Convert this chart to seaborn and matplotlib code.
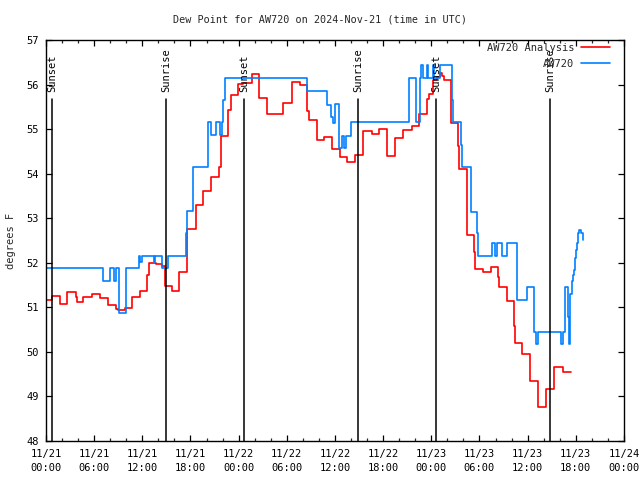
import matplotlib
matplotlib.use("Agg")
import matplotlib.pyplot as plt
import seaborn as sns
import pandas as pd

# ---- data (hours since 2024-11-21 00:00 UTC, dew point in F) ----
analysis_hours = [0.0, 0.78, 1.74, 2.65, 3.70, 3.90, 4.65, 5.77, 6.73, 7.69, 7.76, 8.72, 9.01, 9.88,
                  10.71, 11.71, 12.62, 12.79, 13.70, 14.41, 14.79, 15.73, 16.60, 17.60, 18.65, 19.59,
                  20.55, 21.59, 21.76, 22.63, 22.71, 23.04, 23.95, 24.58, 25.66, 26.57, 27.57, 28.65,
                  29.56, 30.61, 31.64, 32.47, 32.80, 33.72, 34.63, 35.59, 36.62, 37.53, 38.53, 39.52,
                  40.65, 41.52, 42.51, 43.51, 44.51, 45.55, 46.50, 47.42, 47.75, 48.24, 48.71, 49.08,
                  49.39, 49.58, 50.41, 51.36, 51.48, 52.41, 52.48, 53.35, 53.48, 54.40, 54.47, 55.39,
                  56.34, 56.46, 57.39, 58.30, 58.42, 59.35, 60.35, 61.32, 62.34, 63.32, 64.34, 65.40]
analysis_vals = [51.17, 51.25, 51.08, 51.34, 51.23, 51.12, 51.23, 51.30, 51.21, 51.12, 51.05, 50.96, 50.95, 50.99,
                 51.23, 51.37, 51.72, 52.00, 51.97, 51.93, 51.49, 51.36, 51.79, 52.75, 53.29, 53.61,
                 53.93, 54.14, 54.85, 55.34, 55.43, 55.77, 56.01, 56.04, 56.23, 55.69, 55.35, 55.34,
                 55.58, 56.05, 56.00, 55.41, 55.20, 54.76, 54.83, 54.55, 54.38, 54.27, 54.43, 54.96,
                 54.90, 55.00, 54.40, 54.79, 54.98, 55.08, 55.34, 55.68, 55.79, 56.10, 56.18, 56.27,
                 56.19, 56.10, 55.13, 54.62, 54.10, 53.35, 52.62, 52.25, 51.85, 51.82, 51.79, 51.91,
                 51.67, 51.45, 51.15, 50.58, 50.21, 49.95, 49.34, 48.76, 49.16, 49.66, 49.54, 49.54]

obs_hours = [0.0, 7.14, 7.97, 8.47, 8.72, 9.09, 9.93, 11.62, 11.77, 11.96, 13.49, 13.58, 14.41, 15.23,
             17.44, 17.52, 18.35, 20.22, 20.51, 21.18, 21.67, 21.88, 22.05, 22.33, 32.47, 35.04,
             35.47, 35.72, 36.04, 36.54, 36.87, 37.12, 37.31, 38.05, 45.16, 46.09, 46.59, 46.71,
             46.92, 47.42, 47.62, 48.17, 48.33, 49.08, 50.54, 50.74, 51.69, 51.86, 52.94, 53.73,
             53.85, 55.52, 55.93, 56.22, 56.78, 57.46, 58.63, 58.71, 59.96, 60.79, 61.04, 61.33,
             64.11, 64.36, 64.65, 64.98, 65.10, 65.27, 65.48, 65.61, 65.77, 65.90, 66.02, 66.18,
             66.30, 66.43, 66.64, 66.93]
obs_vals = [51.88, 51.59, 51.88, 51.59, 51.88, 50.87, 51.88, 52.15, 52.02, 52.15, 52.02, 52.15, 51.88, 52.15,
            52.66, 53.16, 54.14, 55.15, 54.87, 55.15, 54.87, 55.15, 55.65, 56.14, 55.86, 55.54,
            55.28, 55.13, 55.56, 54.57, 54.85, 54.57, 54.85, 55.15, 56.14, 55.15, 56.14, 56.44,
            56.14, 56.44, 56.14, 56.44, 56.14, 56.44, 55.65, 55.15, 54.64, 54.14, 53.15, 52.66,
            52.15, 52.44, 52.15, 52.44, 52.15, 52.44, 51.95, 51.17, 51.45, 50.44, 50.18, 50.44,
            50.18, 50.44, 51.45, 50.79, 50.18, 51.31, 51.58, 51.73, 51.84, 52.10, 52.29, 52.45,
            52.66, 52.74, 52.66, 52.51]

sun_events = ["Sunset", "Sunrise", "Sunset", "Sunrise", "Sunset", "Sunrise"]
sun_hours = [0.75, 14.98, 24.68, 38.90, 48.60, 62.82]

tick_hours = list(range(0, 73, 6))
tick_labels = ["11/21\n00:00", "11/21\n06:00", "11/21\n12:00", "11/21\n18:00",
               "11/22\n00:00", "11/22\n06:00", "11/22\n12:00", "11/22\n18:00",
               "11/23\n00:00", "11/23\n06:00", "11/23\n12:00", "11/23\n18:00",
               "11/24\n00:00"]
y_ticks = list(range(48, 58))

title = "Dew Point for AW720 on 2024-Nov-21 (time in UTC)"

# ---- plot ----
sns.set_theme(style="white")
plt.rcParams["font.family"] = ["DejaVu Sans Mono"]
plt.rcParams["font.size"] = 7.5

fig = plt.figure(figsize=(6.4, 4.8), dpi=100)
ax = fig.add_axes([46 / 640, 1 - 441 / 480, 578 / 640, 401 / 480])

df_a = pd.DataFrame({"h": analysis_hours, "v": analysis_vals})
df_o = pd.DataFrame({"h": obs_hours, "v": obs_vals})

sns.lineplot(data=df_a, x="h", y="v", ax=ax, color="#ff0000", lw=1.2,
             drawstyle="steps-post", sort=False, estimator=None, label="AW720 Analysis")
sns.lineplot(data=df_o, x="h", y="v", ax=ax, color="#0080ff", lw=1.2,
             drawstyle="steps-post", sort=False, estimator=None, label="AW720")

trans = ax.get_xaxis_transform()
for name, h in zip(sun_events, sun_hours):
    ax.plot([h, h], [0, (441 - 99) / 401], transform=trans, color="black", lw=1.1)
    ax.text(h, (441 - 92) / 401, name, transform=trans, rotation=90,
            ha="center", va="bottom", fontsize=7.5, color="black")

ax.set_xlim(0, 72)
ax.set_ylim(48, 57)
ax.set_xticks(tick_hours)
ax.set_xticklabels(tick_labels, linespacing=1.5)
ax.set_xticks(list(range(0, 73, 2)), minor=True)
ax.set_yticks(y_ticks)
ax.set_yticklabels([str(v) for v in y_ticks])

ax.tick_params(axis="both", which="major", direction="in", length=4, width=0.9,
               top=True, right=True, bottom=True, left=True, labelsize=7.5, colors="black")
ax.tick_params(axis="x", which="major", pad=6)
ax.tick_params(axis="y", which="major", pad=5)
ax.tick_params(axis="x", which="minor", direction="in", length=2, width=0.9,
               top=True, bottom=True)
for s in ax.spines.values():
    s.set_color("black")
    s.set_linewidth(1.0)

ax.set_xlabel("")
ax.set_ylabel("degrees F", fontsize=7.5)
ax.yaxis.set_label_coords(-(46 - 16) / 578, 0.5)
ax.grid(False)

fig.suptitle(title, fontsize=7.3, y=1 - 19 / 480, va="center")

leg = ax.legend(loc="upper right", frameon=False, markerfirst=False, fontsize=7.5,
                handlelength=2.8, handletextpad=0.65, labelspacing=0.55,
                borderaxespad=0.0, borderpad=0.0,
                bbox_to_anchor=(1 - 14 / 578, 1 - 3 / 401))
for t in leg.get_texts():
    t.set_ha("right")
leg._legend_box.align = "right"

fig.savefig("out.png", dpi=100, facecolor="white")
